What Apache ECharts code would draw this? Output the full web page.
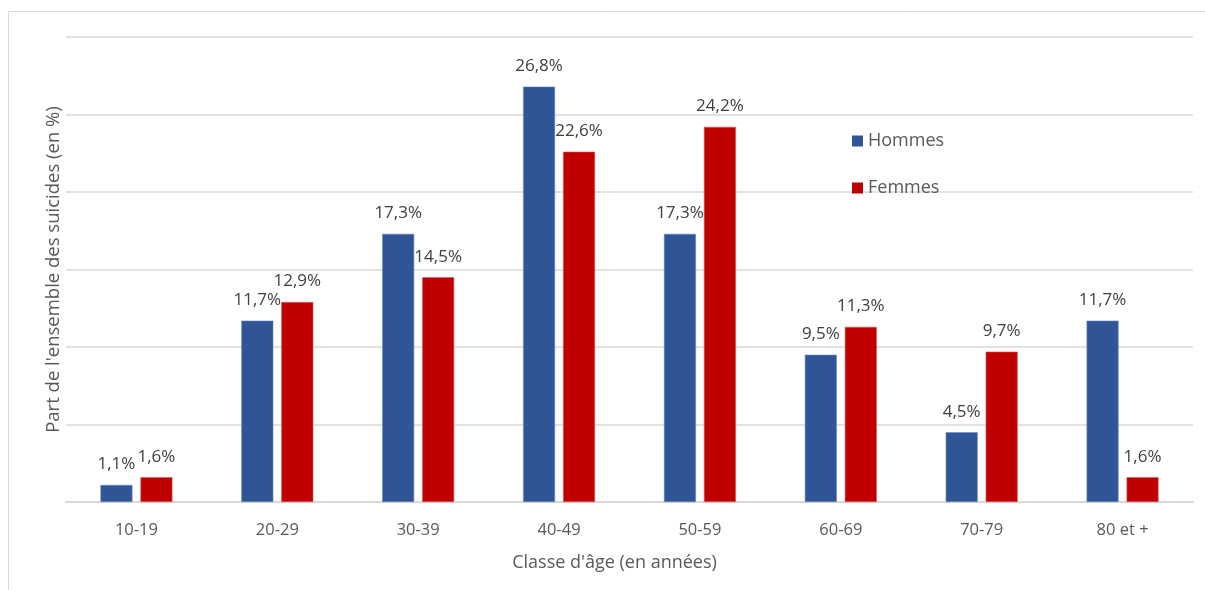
<!DOCTYPE html>
<html>
<head>
<meta charset="utf-8">
<script src="https://cdn.jsdelivr.net/npm/echarts@6/dist/echarts.min.js"></script>
<style>
  html, body { margin: 0; padding: 0; background: #fff; }
  #chart { width: 1205px; height: 590px; }
</style>
</head>
<body>
<div id="chart"></div>
<script>
// Age classes and share of all suicides (%) by sex
const ageClasses = ['10-19', '20-29', '30-39', '40-49', '50-59', '60-69', '70-79', '80 et +'];
const hommes = [1.1, 11.7, 17.3, 26.8, 17.3, 9.5, 4.5, 11.7];
const femmes = [1.6, 12.9, 14.5, 22.6, 24.2, 11.3, 9.7, 1.6];

const fontFamily = '"Open Sans", "Noto Sans", sans-serif';
const fmt = p => p.value.toFixed(1).replace('.', ',') + '%';

const chart = echarts.init(document.getElementById('chart'));
chart.setOption({
  animation: false,
  backgroundColor: '#fff',
  graphic: [{
    type: 'rect',
    shape: { x: 8.5, y: 11.5, width: 1210, height: 600 },
    style: { fill: 'none', stroke: '#d9d9d9', lineWidth: 1 },
    silent: true
  }],
  grid: { left: 66, right: 12, top: 37, bottom: 88, containLabel: false },
  legend: {
    orient: 'vertical',
    left: 847,
    top: 127,
    itemGap: 29,
    itemWidth: 11,
    itemHeight: 11,
    icon: 'rect',
    itemStyle: { borderWidth: 0 },
    textStyle: { color: '#595959', fontSize: 18, fontFamily: fontFamily }
  },
  xAxis: {
    type: 'category',
    data: ageClasses,
    axisTick: { show: false },
    axisLine: { lineStyle: { color: '#d9d9d9', width: 2 } },
    axisLabel: { color: '#595959', fontSize: 16.5, fontFamily: fontFamily, margin: 20 },
    name: "Classe d'âge (en années)",
    nameLocation: 'middle',
    nameGap: 52,
    nameTextStyle: { color: '#595959', fontSize: 18, fontFamily: fontFamily, padding: [0, 30, 0, 0] }
  },
  yAxis: {
    type: 'value',
    min: 0,
    max: 30,
    interval: 5,
    axisLabel: { show: false },
    axisLine: { show: false },
    axisTick: { show: false },
    splitLine: { lineStyle: { color: '#d9d9d9', width: 1.5 } },
    name: "Part de l'ensemble des suicides (en %)",
    nameLocation: 'middle',
    nameGap: 3,
    nameRotate: 90,
    nameTextStyle: { color: '#595959', fontSize: 18.5, fontFamily: fontFamily }
  },
  series: [
    {
      name: 'Hommes',
      type: 'bar',
      data: hommes,
      barWidth: '22.7%',
      barGap: '25%',
      itemStyle: { color: '#2F5597', borderColor: '#6a86bb', borderWidth: 0.6 },
      label: { show: true, position: 'top', distance: 12, formatter: fmt, color: '#404040', fontSize: 17, fontFamily: fontFamily }
    },
    {
      name: 'Femmes',
      type: 'bar',
      data: femmes,
      barWidth: '22.7%',
      itemStyle: { color: '#C00000', borderColor: '#d65a5a', borderWidth: 0.6 },
      label: { show: true, position: 'top', distance: 12, formatter: fmt, color: '#404040', fontSize: 17, fontFamily: fontFamily }
    }
  ]
});
</script>
</body>
</html>
